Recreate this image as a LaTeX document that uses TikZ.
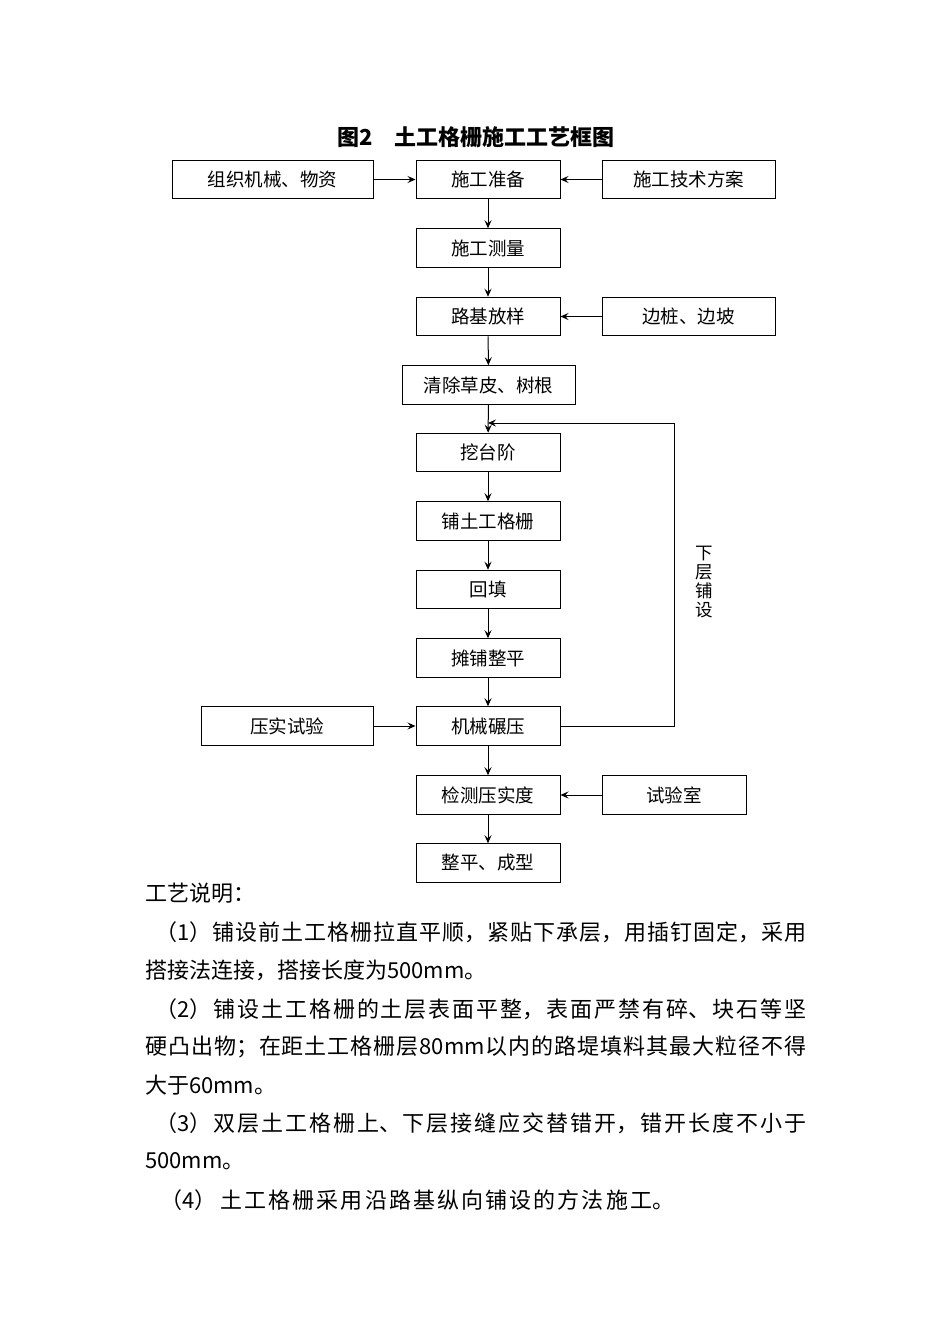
\documentclass[tikz,border=0pt]{standalone}
\usepackage{fontspec}
\setmainfont{Noto Sans CJK SC}
\XeTeXlinebreaklocale "zh"
\XeTeXlinebreakskip=0pt plus 3pt
\usetikzlibrary{arrows.meta}
\newcommand{\fullline}[1]{\parfillskip=0pt\relax #1\par}
\begin{document}
\begin{tikzpicture}[x=1pt,y=-1pt,
  box/.style={draw,line width=1pt,minimum height=38.5pt,minimum width=144pt,inner sep=0pt,font=\fontsize{18.5}{20}\selectfont},
  arr/.style={line width=1pt,-{Stealth[length=8pt,width=7pt,inset=3pt]}},
  body/.style={anchor=west,inner sep=0pt,font=\fontsize{22}{24}\selectfont},
  full/.style={body,text width=#1,align=justify}]
\useasboundingbox (0,0) rectangle (950,1344);
\node[font=\fontsize{22}{24}\selectfont\bfseries] (title) at (476,137) {图2\hspace{1em}土工格栅施工工艺框图};
\node[box,minimum width=201pt] (zz) at (272.5,179.5) {组织机械、物资};
\node[box] (zb) at (488,179.5) {施工准备};
\node[box,minimum width=173pt] (fa) at (688.5,179.5) {施工技术方案};
\node[box] (cl) at (488,248) {施工测量};
\node[box] (fy) at (488,316.5) {路基放样};
\node[box,minimum width=173pt] (bz) at (688.5,316.5) {边桩、边坡};
\node[box,minimum width=173pt] (qc) at (488.5,385) {清除草皮、树根};
\node[box] (wt) at (488,452.5) {挖台阶};
\node[box] (pg) at (488,521) {铺土工格栅};
\node[box] (ht) at (488,589.5) {回填};
\node[box] (tp) at (488,658) {摊铺整平};
\node[box] (jx) at (488,726) {机械碾压};
\node[box,minimum width=172pt] (sy) at (287,726) {压实试验};
\node[box] (jc) at (488,795) {检测压实度};
\node[box] (sys) at (674,795) {试验室};
\node[box] (zp) at (488,863) {整平、成型};
\coordinate (loopin) at (488,423);
\coordinate (c1) at (674,726);
\coordinate (c2) at (674,423);
\draw[arr] (zz) -- (zb);
\draw[arr] (fa) -- (zb);
\draw[arr] (zb) -- (cl);
\draw[arr] (cl) -- (fy);
\draw[arr] (bz) -- (fy);
\draw[arr] (fy) -- (qc);
\draw[arr] (qc) -- (wt);
\draw[arr] (wt) -- (pg);
\draw[arr] (pg) -- (ht);
\draw[arr] (ht) -- (tp);
\draw[arr] (tp) -- (jx);
\draw[arr] (sy) -- (jx);
\draw[arr] (jx) -- (jc);
\draw[arr] (sys) -- (jc);
\draw[arr] (jc) -- (zp);
\draw[arr] (jx.east) -- (c1) -- (c2) -- (loopin);
\node[align=center,inner sep=0pt,font=\fontsize{17.5}{19}\selectfont] (lbl) at (704,582) {下\\层\\铺\\设};
\node[body] (t0) at (145,893) {工艺说明：};
\node[full=651pt] (t1) at (155,932) {\fullline{（1）铺设前土工格栅拉直平顺，紧贴下承层，用插钉固定，采用}};
\node[body] (t2) at (145,970) {搭接法连接，搭接长度为500mm。};
\node[full=651pt] (t3) at (155,1009) {\fullline{（2）铺设土工格栅的土层表面平整，表面严禁有碎、块石等坚}};
\node[full=661pt] (t4) at (145,1047) {\fullline{硬凸出物；在距土工格栅层80mm以内的路堤填料其最大粒径不得}};
\node[body] (t5) at (145,1085) {大于60mm。};
\node[full=651pt] (t6) at (155,1123) {\fullline{（3）双层土工格栅上、下层接缝应交替错开，错开长度不小于}};
\node[body] (t7) at (145,1161) {500mm。};
\node[full=514pt] (t8) at (160,1200) {\fullline{（4）\hspace{4pt}土工格栅采用沿路基纵向铺设的方法施工。}};
\end{tikzpicture}
\end{document}
